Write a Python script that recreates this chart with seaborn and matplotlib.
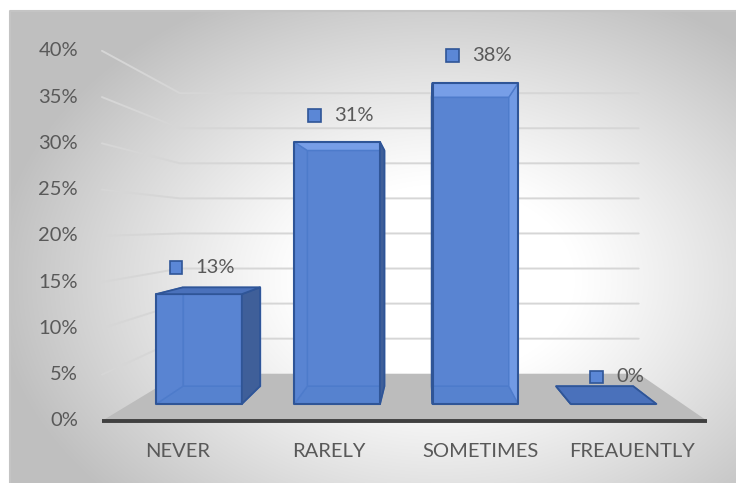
import numpy as np
import pandas as pd
import seaborn as sns
import matplotlib.pyplot as plt
from matplotlib.patches import Polygon, Rectangle
from matplotlib.offsetbox import HPacker, TextArea, DrawingArea, AnnotationBbox
from matplotlib import transforms

# ---- data -------------------------------------------------------------
categories = ["NEVER", "RARELY", "SOMETIMES", "FREAUENTLY"]
shares = [0.13, 0.31, 0.38, 0.00]
share_labels = ["13%", "31%", "38%", "0%"]
tick_values = [0.00, 0.05, 0.10, 0.15, 0.20, 0.25, 0.30, 0.35, 0.40]
tick_labels = ["0%", "5%", "10%", "15%", "20%", "25%", "30%", "35%", "40%"]

# ---- figure setup -----------------------------------------------------
W, H, DPI = 736, 483, 100
TEXT = "#595959"
FS = 14.5

sns.set_theme(style="white")
plt.rcParams["font.family"] = ["Lato", "DejaVu Sans"]

fig = plt.figure(figsize=(W / DPI, H / DPI), dpi=DPI)

# radial grey-to-white background of the chart area
bg = fig.add_axes([0, 0, 1, 1])
bg.set_xlim(0, W)
bg.set_ylim(H, 0)
bg.axis("off")
yy, xx = np.mgrid[0:H, 0:W]
d = np.sqrt(((xx - 440) / 420.0) ** 2 + ((yy - 280) / 300.0) ** 2)
shade = 1 - (64 / 255.0) * np.clip((d - 0.32) / 0.75, 0, 1) ** 1.1
img = np.dstack([shade] * 3)
img[:11, :] = 1
img[:, :10] = 1
bg.imshow(img, extent=(0, W, H, 0), interpolation="bilinear", aspect="auto")
bg.plot([10, 10, W], [H, 11, 11], color="#c4c4c4", lw=1.5)

# ---- main axes: data space of the bars' front plane -------------------
ax = fig.add_axes([0, 0, 1, 1])
ax.patch.set_alpha(0)

df = pd.DataFrame({"response": categories, "share": shares})
sns.barplot(data=df, x="response", y="share", ax=ax, width=0.62,
            color="#5b87d6", saturation=1, errorbar=None, zorder=3)
bars = list(ax.patches)

ax.set_xlim(-1.44, 3.886)
ax.set_ylim(-0.0935, 0.4781)
ax.axis("off")

# perspective: vanishing point and depth factors
VP = (1.628, 0.2107)
K_FLOOR_FRONT, K_WALL, K_BAR_BACK = 1.095, 0.83, 0.90
X_LEFT, X_RIGHT = -0.5, 3.5


def proj(x, y, k):
    return (VP[0] + k * (x - VP[0]), VP[1] + k * (y - VP[1]))


# floor
floor = [proj(X_LEFT, 0, K_FLOOR_FRONT), proj(X_RIGHT, 0, K_FLOOR_FRONT),
         proj(X_RIGHT, 0, K_WALL), proj(X_LEFT, 0, K_WALL)]
ax.add_patch(Polygon(floor, closed=True, facecolor="#bcbcbc",
                     edgecolor="none", zorder=1))

# gridlines on the side wall and the back wall
for v in tick_values[1:]:
    a = proj(X_LEFT, v, K_FLOOR_FRONT)
    b = proj(X_LEFT, v, K_WALL)
    c = proj(X_RIGHT, v, K_WALL)
    ax.plot([a[0], b[0], c[0]], [a[1], b[1], c[1]], color="#d6d6d6",
            lw=1.4, zorder=1.2, solid_joinstyle="miter")

# front edge of the floor
a = proj(X_LEFT, 0, K_FLOOR_FRONT)
b = proj(X_RIGHT, 0, K_FLOOR_FRONT)
ax.plot([a[0], b[0]], [a[1], b[1]], color="#404040", lw=2.8,
        solid_capstyle="butt", zorder=1.3)

# value axis labels
tick_tf = transforms.offset_copy(ax.transData, fig=fig, x=-24, y=0, units="dots")
for v, lab in zip(tick_values, tick_labels):
    px, py = proj(X_LEFT, v, K_FLOOR_FRONT)
    ax.text(px, py, lab, transform=tick_tf, ha="right", va="center",
            fontsize=FS, color=TEXT)

# category labels
cat_tf = transforms.offset_copy(ax.transData, fig=fig, x=0, y=-31, units="dots")
for i, lab in enumerate(categories):
    px, py = proj(i, 0, K_FLOOR_FRONT)
    ax.text(px, py, lab, transform=cat_tf, ha="center", va="center",
            fontsize=FS, color=TEXT)

# ---- 3-D boxes around the seaborn bars --------------------------------
EDGE_DARK = "#2f5597"
EDGE_INNER = "#4a78c8"
C_BACK = "#5984d1"
C_BOTTOM = "#5581ce"
C_TOP_IN = "#7fa5ec"
C_LEFT_IN = "#5984d1"
C_RIGHT_IN = "#78a0e8"
C_SIDE_OUT = "#3f5f99"
C_TOP_OUT = "#4a71bb"


def F(x, y):
    return (x, y)


def B(x, y):
    return proj(x, y, K_BAR_BACK)


for p in bars:
    x0 = p.get_x()
    x1 = x0 + p.get_width()
    top = p.get_height()

    faces_in, faces_out = [], []
    faces_in.append(([B(x0, 0), B(x1, 0), B(x1, top), B(x0, top)], C_BACK))
    faces_in.append(([F(x0, 0), F(x1, 0), B(x1, 0), B(x0, 0)], C_BOTTOM))
    top_face = [F(x0, top), F(x1, top), B(x1, top), B(x0, top)]
    left_face = [F(x0, 0), F(x0, top), B(x0, top), B(x0, 0)]
    right_face = [F(x1, 0), F(x1, top), B(x1, top), B(x1, 0)]
    if VP[0] < x0:
        faces_out.append((left_face, C_SIDE_OUT))
    else:
        faces_in.append((left_face, C_LEFT_IN))
    if VP[0] > x1:
        faces_out.append((right_face, C_SIDE_OUT))
    else:
        faces_in.append((right_face, C_RIGHT_IN))
    if VP[1] > top:
        faces_out.append((top_face, C_TOP_OUT))
    else:
        faces_in.append((top_face, C_TOP_IN))

    for j, (pts, col) in enumerate(faces_in):
        ax.add_patch(Polygon(pts, closed=True, facecolor=col,
                             edgecolor=EDGE_INNER, lw=1.0,
                             zorder=2.0 + 0.01 * j))
    for pts, col in faces_out:
        ax.add_patch(Polygon(pts, closed=True, facecolor=col,
                             edgecolor=EDGE_DARK, lw=1.3,
                             joinstyle="round", zorder=3.5))

    # translucent front face with a dark outline
    p.set_facecolor((0.36, 0.53, 0.84, 0.22))
    p.set_edgecolor(EDGE_DARK)
    p.set_linewidth(1.5)
    p.set_joinstyle("round")

# ---- value labels with a legend-key square ----------------------------
for p, lab in zip(bars, share_labels):
    cx = p.get_x() + p.get_width() / 2
    top = p.get_height()
    da = DrawingArea(10.5, 10.5, 0, 0)
    da.add_artist(Rectangle((0.6, 0.6), 9.3, 9.3, facecolor="#5b87d6",
                            edgecolor=EDGE_DARK, lw=1.2))
    ta = TextArea(lab, textprops=dict(color=TEXT, fontsize=FS))
    box = HPacker(children=[da, ta], align="center", pad=0, sep=9)
    ab = AnnotationBbox(box, (cx, top), xybox=(3 * 0.72, 27 * 0.72),
                        xycoords="data", boxcoords="offset points",
                        frameon=False, box_alignment=(0.5, 0.5), pad=0,
                        zorder=6)
    ax.add_artist(ab)

fig.savefig("out.png", dpi=DPI)
